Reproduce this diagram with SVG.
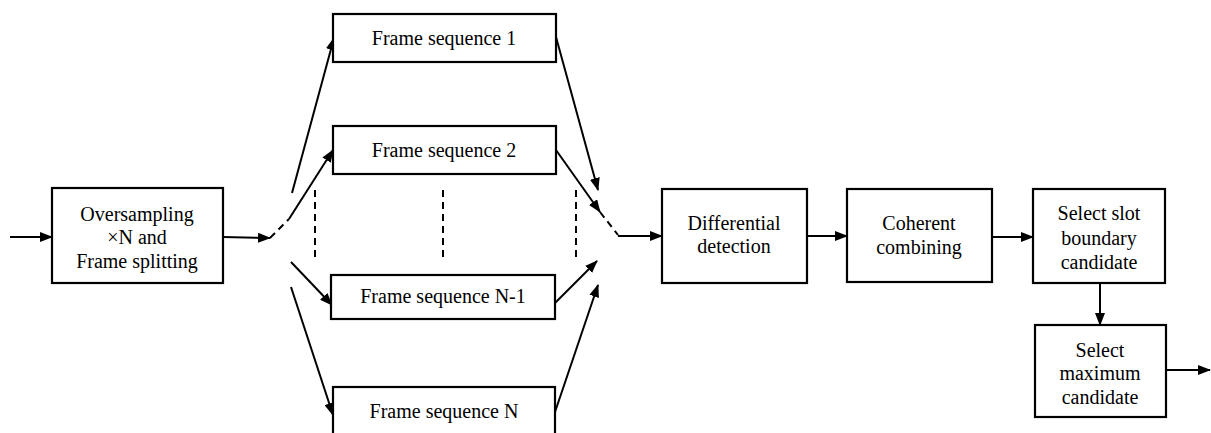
<svg xmlns="http://www.w3.org/2000/svg" width="1211" height="433" viewBox="0 0 1211 433" font-family="'Liberation Serif', 'Times New Roman', serif">
  <style>
    .box { fill: #fff; stroke: #000; stroke-width: 2.2; }
    .lbl { font-size: 20px; fill: #000; text-anchor: middle; }
    .wire { fill: none; stroke: #000; stroke-width: 2; }
    .dash { fill: none; stroke: #000; stroke-width: 2; stroke-dasharray: 7 5; }
  </style>
  <defs>
    <marker id="arrow" markerUnits="userSpaceOnUse" markerWidth="13" markerHeight="10" refX="12" refY="5" orient="auto">
      <path d="M0,0 L13,5 L0,10 Z" fill="#000"/>
    </marker>
  </defs>
  <rect width="1211" height="433" fill="#fff"/>

  <!-- connectors -->
  <g id="connectors">
    <line class="wire" x1="10" y1="237" x2="52" y2="237" marker-end="url(#arrow)"/>
    <line class="wire" x1="223" y1="237" x2="270" y2="238" marker-end="url(#arrow)"/>
    <!-- fan-out to frame sequences -->
    <line class="dash" x1="270" y1="238" x2="289" y2="219"/>
    <line class="wire" x1="289" y1="219" x2="333" y2="150" marker-end="url(#arrow)"/>
    <line class="wire" x1="292" y1="193" x2="334" y2="38" marker-end="url(#arrow)"/>
    <line class="wire" x1="291" y1="262" x2="332" y2="305" marker-end="url(#arrow)"/>
    <line class="wire" x1="291" y1="287" x2="333" y2="415" marker-end="url(#arrow)"/>
    <!-- vertical ellipsis -->
    <line class="dash" x1="315" y1="190" x2="315" y2="258"/>
    <line class="dash" x1="443" y1="190" x2="443" y2="258"/>
    <line class="dash" x1="576" y1="190" x2="576" y2="258"/>
    <!-- fan-in to differential detection -->
    <line class="wire" x1="556" y1="37" x2="598" y2="190" marker-end="url(#arrow)"/>
    <line class="wire" x1="556" y1="150" x2="600" y2="212" marker-end="url(#arrow)"/>
    <line class="dash" x1="600" y1="212" x2="618" y2="235"/>
    <line class="wire" x1="555" y1="303" x2="597" y2="261" marker-end="url(#arrow)"/>
    <line class="wire" x1="555" y1="412" x2="598" y2="285" marker-end="url(#arrow)"/>
    <line class="wire" x1="618" y1="236" x2="662" y2="236" marker-end="url(#arrow)"/>
    <!-- processing chain -->
    <line class="wire" x1="807" y1="236" x2="847" y2="236" marker-end="url(#arrow)"/>
    <line class="wire" x1="992" y1="237" x2="1033" y2="237" marker-end="url(#arrow)"/>
    <line class="wire" x1="1100" y1="283" x2="1100" y2="325" marker-end="url(#arrow)"/>
    <line class="wire" x1="1166" y1="370" x2="1210" y2="370" marker-end="url(#arrow)"/>
  </g>

  <g id="oversampling">
    <rect class="box" x="52" y="188" width="171" height="95"/>
    <text class="lbl" x="137" y="221">Oversampling</text>
    <text class="lbl" x="137" y="244">×N and</text>
    <text class="lbl" x="137" y="268">Frame splitting</text>
  </g>

  <g id="frame-seq-1">
    <rect class="box" x="333" y="14" width="223" height="48"/>
    <text class="lbl" x="444" y="45">Frame sequence 1</text>
  </g>
  <g id="frame-seq-2">
    <rect class="box" x="333" y="126" width="223" height="48"/>
    <text class="lbl" x="444" y="157">Frame sequence 2</text>
  </g>
  <g id="frame-seq-n-1">
    <rect class="box" x="331" y="275" width="224" height="44"/>
    <text class="lbl" x="443" y="303">Frame sequence N-1</text>
  </g>
  <g id="frame-seq-n">
    <rect class="box" x="333" y="387" width="222" height="60"/>
    <text class="lbl" x="444" y="418">Frame sequence N</text>
  </g>

  <g id="differential-detection">
    <rect class="box" x="662" y="189" width="145" height="94"/>
    <text class="lbl" x="734" y="230">Differential</text>
    <text class="lbl" x="734" y="253">detection</text>
  </g>

  <g id="coherent-combining">
    <rect class="box" x="847" y="189" width="145" height="93"/>
    <text class="lbl" x="919" y="230">Coherent</text>
    <text class="lbl" x="919" y="254">combining</text>
  </g>

  <g id="select-slot-boundary">
    <rect class="box" x="1033" y="189" width="132" height="94"/>
    <text class="lbl" x="1099" y="220">Select slot</text>
    <text class="lbl" x="1099" y="245">boundary</text>
    <text class="lbl" x="1099" y="269">candidate</text>
  </g>

  <g id="select-maximum">
    <rect class="box" x="1035" y="325" width="131" height="92"/>
    <text class="lbl" x="1100" y="357">Select</text>
    <text class="lbl" x="1100" y="380">maximum</text>
    <text class="lbl" x="1100" y="404">candidate</text>
  </g>
</svg>
